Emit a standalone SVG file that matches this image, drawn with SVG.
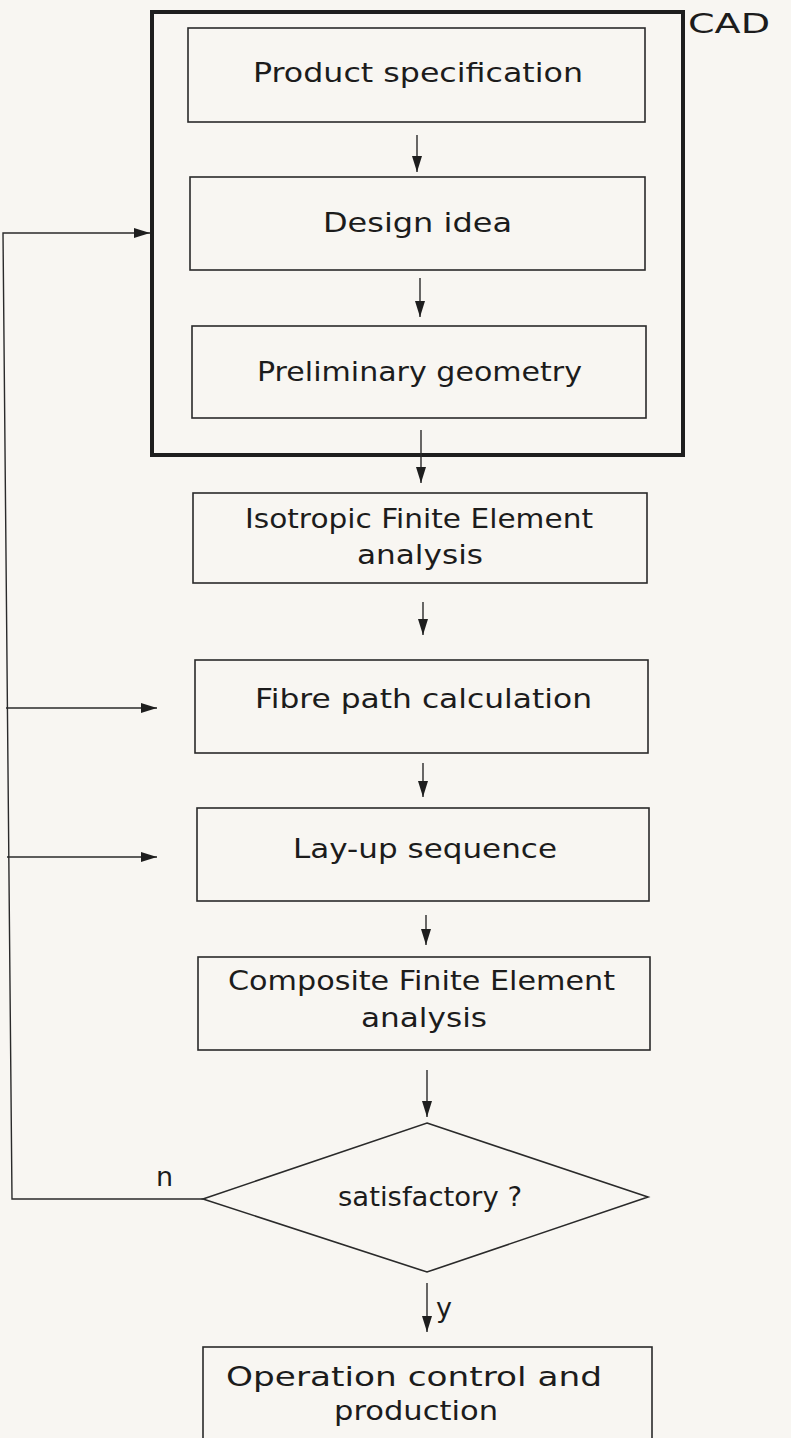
<svg xmlns="http://www.w3.org/2000/svg" width="791" height="1438" viewBox="0 0 791 1438">
  <defs>
    <style>
      .box { fill: none; stroke: #2a2a2a; stroke-width: 1.6; }
      .cad { fill: none; stroke: #1e1e1e; stroke-width: 4; }
      .lbl { font-family: "DejaVu Sans", "Liberation Sans", sans-serif; font-size: 27px; fill: #1c1c1c; }
      .edge { fill: none; stroke: #2a2a2a; stroke-width: 1.4; }
    </style>
    <marker id="ah" viewBox="0 0 16 10" markerWidth="16" markerHeight="10" refX="16" refY="5" orient="auto" markerUnits="userSpaceOnUse">
      <path d="M0,0 L16,5 L0,10 z" fill="#1e1e1e"/>
    </marker>
  </defs>
  <rect x="0" y="0" width="791" height="1438" fill="#f8f6f2"/>

  <g id="cad-group">
    <rect class="cad" x="152" y="12" width="531" height="443"/>
    <text class="lbl" x="688" y="33" font-size="26" textLength="82" lengthAdjust="spacingAndGlyphs">CAD</text>
  </g>

  <g id="node-product-spec">
    <rect class="box" x="188" y="28" width="457" height="94"/>
    <text class="lbl" x="253" y="82" textLength="330" lengthAdjust="spacingAndGlyphs">Product specification</text>
  </g>
  <g id="node-design-idea">
    <rect class="box" x="190" y="177" width="455" height="93"/>
    <text class="lbl" x="323" y="232" textLength="189" lengthAdjust="spacingAndGlyphs">Design idea</text>
  </g>
  <g id="node-preliminary-geometry">
    <rect class="box" x="192" y="326" width="454" height="92"/>
    <text class="lbl" x="257" y="381" textLength="325" lengthAdjust="spacingAndGlyphs">Preliminary geometry</text>
  </g>
  <g id="node-isotropic-fea">
    <rect class="box" x="193" y="493" width="454" height="90"/>
    <text class="lbl" x="245" y="528" textLength="348" lengthAdjust="spacingAndGlyphs">Isotropic Finite Element</text>
    <text class="lbl" x="357" y="564" textLength="126" lengthAdjust="spacingAndGlyphs">analysis</text>
  </g>
  <g id="node-fibre-path">
    <rect class="box" x="195" y="660" width="453" height="93"/>
    <text class="lbl" x="255" y="708" textLength="337" lengthAdjust="spacingAndGlyphs">Fibre path calculation</text>
  </g>
  <g id="node-layup">
    <rect class="box" x="197" y="808" width="452" height="93"/>
    <text class="lbl" x="293" y="858" textLength="264" lengthAdjust="spacingAndGlyphs">Lay-up sequence</text>
  </g>
  <g id="node-composite-fea">
    <rect class="box" x="198" y="957" width="452" height="93"/>
    <text class="lbl" x="228" y="990" textLength="387" lengthAdjust="spacingAndGlyphs">Composite Finite Element</text>
    <text class="lbl" x="361" y="1027" textLength="126" lengthAdjust="spacingAndGlyphs">analysis</text>
  </g>
  <g id="node-satisfactory">
    <polygon class="box" points="427,1123 648,1197 427,1272 203,1199"/>
    <text class="lbl" x="338" y="1206" textLength="184" lengthAdjust="spacingAndGlyphs">satisfactory ?</text>
  </g>
  <g id="node-operation">
    <rect class="box" x="203" y="1347" width="449" height="100"/>
    <text class="lbl" x="226" y="1386" textLength="376" lengthAdjust="spacingAndGlyphs">Operation control and</text>
    <text class="lbl" x="334" y="1420" textLength="164" lengthAdjust="spacingAndGlyphs">production</text>
  </g>

  <g id="connectors">
    <line class="edge" x1="417" y1="135" x2="417" y2="172" marker-end="url(#ah)"/>
    <line class="edge" x1="420" y1="278" x2="420" y2="317" marker-end="url(#ah)"/>
    <line class="edge" x1="421" y1="430" x2="421" y2="483" marker-end="url(#ah)"/>
    <line class="edge" x1="423" y1="602" x2="423" y2="635" marker-end="url(#ah)"/>
    <line class="edge" x1="423" y1="763" x2="423" y2="797" marker-end="url(#ah)"/>
    <line class="edge" x1="426" y1="915" x2="426" y2="945" marker-end="url(#ah)"/>
    <line class="edge" x1="427" y1="1070" x2="427" y2="1117" marker-end="url(#ah)"/>
    <line class="edge" x1="427" y1="1283" x2="427" y2="1332" marker-end="url(#ah)"/>
    <path class="edge" d="M203,1199 L12,1199 L3,233 L150,233" marker-end="url(#ah)"/>
    <line class="edge" x1="6" y1="708" x2="157" y2="708" marker-end="url(#ah)"/>
    <line class="edge" x1="7" y1="857" x2="157" y2="857" marker-end="url(#ah)"/>
    <text class="lbl" x="156" y="1186" font-size="31">n</text>
    <text class="lbl" x="436" y="1317" font-size="31">y</text>
  </g>
</svg>
